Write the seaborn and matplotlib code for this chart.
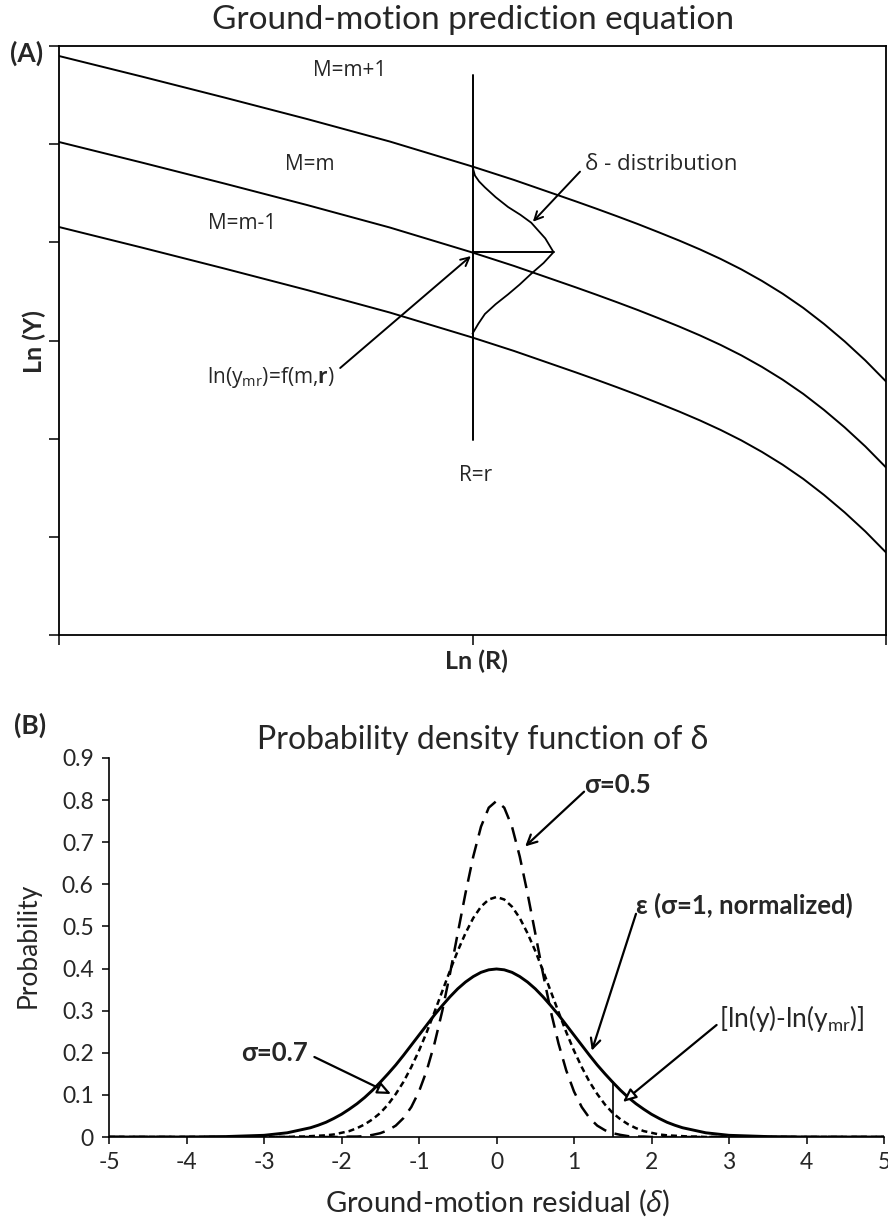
import numpy as np
import pandas as pd
import matplotlib
matplotlib.use("Agg")
import matplotlib.pyplot as plt
import seaborn as sns

# ---------------- Panel A data (schematic, arbitrary units) ----------------
gm_x = [0.0, 0.1, 0.2, 0.3, 0.4, 0.5, 0.55, 0.6, 0.625, 0.65, 0.675, 0.7,
        0.725, 0.75, 0.775, 0.8, 0.825, 0.85, 0.875, 0.9, 0.925, 0.95, 0.975, 1.0]
gm_m_plus = [5.898, 5.689, 5.475, 5.256, 5.027, 4.772, 4.636, 4.490, 4.417, 4.342,
             4.265, 4.186, 4.103, 4.018, 3.928, 3.831, 3.725, 3.607, 3.477, 3.332,
             3.169, 2.991, 2.797, 2.583]
gm_m = [5.022, 4.813, 4.599, 4.380, 4.151, 3.896, 3.760, 3.614, 3.541, 3.466,
        3.389, 3.310, 3.227, 3.142, 3.052, 2.955, 2.849, 2.731, 2.601, 2.456,
        2.293, 2.115, 1.921, 1.707]
gm_m_minus = [4.156, 3.947, 3.733, 3.514, 3.285, 3.030, 2.894, 2.748, 2.675, 2.600,
              2.523, 2.444, 2.361, 2.276, 2.186, 2.089, 1.983, 1.865, 1.735, 1.590,
              1.427, 1.249, 1.055, 0.841]
curve_labels = ["M=m+1", "M=m", "M=m-1"]
r_value = 0.5
r_line_y = [1.99, 5.70]
bell_x = [0.500, 0.503, 0.508, 0.515, 0.528, 0.543, 0.558, 0.571, 0.588, 0.598,
          0.586, 0.571, 0.557, 0.543, 0.528, 0.515, 0.507, 0.500]
bell_y = [4.77, 4.68, 4.62, 4.56, 4.46, 4.36, 4.28, 4.20, 4.04, 3.90,
          3.79, 3.68, 3.57, 3.47, 3.37, 3.27, 3.17, 3.07]
bell_peak = 3.90

# ---------------- Panel B data ----------------
delta = [-5, -4, -3.5,
         -3.0, -2.9, -2.8, -2.7, -2.6, -2.5, -2.4, -2.3, -2.2, -2.1,
         -2.0, -1.9, -1.8, -1.7, -1.6, -1.5, -1.4, -1.3, -1.2, -1.1,
         -1.0, -0.9, -0.8, -0.7, -0.6, -0.5, -0.4, -0.3, -0.2, -0.1,
         0.0,
         0.1, 0.2, 0.3, 0.4, 0.5, 0.6, 0.7, 0.8, 0.9, 1.0,
         1.1, 1.2, 1.3, 1.4, 1.5, 1.6, 1.7, 1.8, 1.9, 2.0,
         2.1, 2.2, 2.3, 2.4, 2.5, 2.6, 2.7, 2.8, 2.9, 3.0,
         3.5, 4, 5]
pdf_sigma10 = [0.000, 0.000, 0.001,
               0.004, 0.006, 0.008, 0.010, 0.014, 0.018, 0.022, 0.028, 0.035, 0.044,
               0.054, 0.066, 0.079, 0.094, 0.111, 0.130, 0.150, 0.171, 0.194, 0.218,
               0.242, 0.266, 0.290, 0.312, 0.333, 0.352, 0.368, 0.381, 0.391, 0.397,
               0.399,
               0.397, 0.391, 0.381, 0.368, 0.352, 0.333, 0.312, 0.290, 0.266, 0.242,
               0.218, 0.194, 0.171, 0.150, 0.130, 0.111, 0.094, 0.079, 0.066, 0.054,
               0.044, 0.035, 0.028, 0.022, 0.018, 0.014, 0.010, 0.008, 0.006, 0.004,
               0.001, 0.000, 0.000]
pdf_sigma07 = [0.000, 0.000, 0.000,
               0.000, 0.000, 0.000, 0.000, 0.001, 0.001, 0.002, 0.003, 0.004, 0.006,
               0.010, 0.014, 0.021, 0.030, 0.042, 0.057, 0.077, 0.102, 0.131, 0.166,
               0.205, 0.249, 0.297, 0.346, 0.395, 0.442, 0.484, 0.520, 0.547, 0.564,
               0.570,
               0.564, 0.547, 0.520, 0.484, 0.442, 0.395, 0.346, 0.297, 0.249, 0.205,
               0.166, 0.131, 0.102, 0.077, 0.057, 0.042, 0.030, 0.021, 0.014, 0.010,
               0.006, 0.004, 0.003, 0.002, 0.001, 0.001, 0.000, 0.000, 0.000, 0.000,
               0.000, 0.000, 0.000]
pdf_sigma05 = [0.000, 0.000, 0.000,
               0.000, 0.000, 0.000, 0.000, 0.000, 0.000, 0.000, 0.000, 0.000, 0.000,
               0.000, 0.001, 0.001, 0.002, 0.005, 0.009, 0.016, 0.027, 0.045, 0.071,
               0.108, 0.158, 0.222, 0.299, 0.388, 0.484, 0.579, 0.666, 0.737, 0.782,
               0.798,
               0.782, 0.737, 0.666, 0.579, 0.484, 0.388, 0.299, 0.222, 0.158, 0.108,
               0.071, 0.045, 0.027, 0.016, 0.009, 0.005, 0.002, 0.001, 0.001, 0.000,
               0.000, 0.000, 0.000, 0.000, 0.000, 0.000, 0.000, 0.000, 0.000, 0.000,
               0.000, 0.000, 0.000]
residual_mark = 1.5
residual_mark_top = 0.13
x_ticks_b = [-5, -4, -3, -2, -1, 0, 1, 2, 3, 4, 5]
x_tick_labels_b = ["-5", "-4", "-3", "-2", "-1", "0", "1", "2", "3", "4", "5"]
y_ticks_b = [0, 0.1, 0.2, 0.3, 0.4, 0.5, 0.6, 0.7, 0.8, 0.9]
y_tick_labels_b = ["0", "0.1", "0.2", "0.3", "0.4", "0.5", "0.6", "0.7", "0.8", "0.9"]

# ---------------- style ----------------
sns.set_style("ticks")
plt.rcParams["font.family"] = ["Lato", "Noto Sans", "DejaVu Sans"]
plt.rcParams["axes.unicode_minus"] = False
plt.rcParams["mathtext.fontset"] = "custom"
plt.rcParams["mathtext.rm"] = "Open Sans"
plt.rcParams["mathtext.it"] = "Open Sans:italic"
plt.rcParams["mathtext.bf"] = "Open Sans:bold"

W, H = 888, 1219
fig = plt.figure(figsize=(W / 100, H / 100), dpi=100)
fig.patch.set_facecolor("white")

def fx(px):
    return px / W

def fy(py):
    return 1 - py / H

LATO = ["Lato", "Noto Sans", "DejaVu Sans"]
OPEN = ["Open Sans", "DejaVu Sans"]

# ================= Panel A =================
axA = fig.add_axes([fx(59), fy(635), fx(886) - fx(59), fy(46) - fy(635)])
for yy in (gm_m_plus, gm_m, gm_m_minus):
    sns.lineplot(x=gm_x, y=yy, ax=axA, color="black", linewidth=1.4)
sns.lineplot(x=[r_value, r_value], y=r_line_y, ax=axA, color="black", linewidth=1.4,
             estimator=None, sort=False)
sns.lineplot(x=bell_x, y=bell_y, ax=axA, color="black", linewidth=1.3,
             estimator=None, sort=False)
sns.lineplot(x=[r_value, max(bell_x)], y=[bell_peak, bell_peak], ax=axA,
             color="black", linewidth=1.4, estimator=None, sort=False)
axA.set_xlim(0, 1)
axA.set_ylim(0, 6)
axA.set_xticks([0, 0.5, 1])
axA.set_yticks([0, 1, 2, 3, 4, 5, 6])
axA.set_xticklabels([])
axA.set_yticklabels([])
axA.tick_params(direction="out", length=7, width=1.1, color="black")
for s in axA.spines.values():
    s.set_visible(True)
    s.set_linewidth(1.3)
    s.set_color("black")
axA.set_xlabel("")
axA.set_ylabel("")

lab_pos = [(0.352, 5.75), (0.303, 4.79), (0.222, 4.19)]
for lab, (xx, yy) in zip(curve_labels, lab_pos):
    axA.text(xx, yy, lab, family=OPEN, fontsize=15, ha="center", va="center")
axA.text(0.728, 4.79, "δ - distribution", family=OPEN, fontsize=16,
         ha="center", va="center")
axA.text(0.256, 2.62, r"ln(y$_\mathregular{mr}$)=f(m,$\mathbf{r}$)", family=OPEN,
         fontsize=15, ha="center", va="center")
axA.text(0.504, 1.62, "R=r", family=OPEN, fontsize=15, ha="center", va="center")
axA.annotate("", xy=(0.498, 3.86), xytext=(0.340, 2.72),
             arrowprops=dict(arrowstyle="->,head_length=0.6,head_width=0.3",
                             lw=1.4, color="black", shrinkA=0, shrinkB=0))
axA.annotate("", xy=(0.573, 4.21), xytext=(0.630, 4.72),
             arrowprops=dict(arrowstyle="->,head_length=0.6,head_width=0.3",
                             lw=1.4, color="black", shrinkA=0, shrinkB=0))

fig.text(fx(473), fy(20), "Ground-motion prediction equation", family=LATO,
         fontsize=24, ha="center", va="center")
fig.text(fx(27), fy(53), "(A)", family=LATO, fontsize=19, fontweight="bold",
         ha="center", va="center")
fig.text(fx(34), fy(342), "Ln (Y)", family=LATO, fontsize=18, fontweight="bold",
         ha="center", va="center", rotation=90)
fig.text(fx(476), fy(661), "Ln (R)", family=LATO, fontsize=18, fontweight="bold",
         ha="center", va="center")

# ================= Panel B =================
axB = fig.add_axes([fx(109), fy(1137), fx(884) - fx(109), fy(758) - fy(1137)])
sns.lineplot(x=delta, y=pdf_sigma05, ax=axB, color="black", linewidth=1.8,
             linestyle=(0, (6, 3.5)))
sns.lineplot(x=delta, y=pdf_sigma07, ax=axB, color="black", linewidth=1.8,
             linestyle=(0, (2.4, 1.6)))
sns.lineplot(x=delta, y=pdf_sigma10, ax=axB, color="black", linewidth=2.1)
sns.lineplot(x=[residual_mark, residual_mark], y=[0, residual_mark_top], ax=axB,
             color="black", linewidth=1.2, estimator=None, sort=False)
axB.set_xlim(-5, 5)
axB.set_ylim(0, 0.9)
axB.set_xticks(x_ticks_b)
axB.set_xticklabels(x_tick_labels_b)
axB.set_yticks(y_ticks_b)
axB.set_yticklabels(y_tick_labels_b)
axB.tick_params(direction="out", length=5, width=1.1, color="black", labelsize=16.5,
                pad=6)
for lbl in axB.get_xticklabels() + axB.get_yticklabels():
    lbl.set_family(LATO)
sns.despine(ax=axB)
for s in ("left", "bottom"):
    axB.spines[s].set_linewidth(1.2)
    axB.spines[s].set_color("black")
axB.set_xlabel("")
axB.set_ylabel("")

axB.text(1.13, 0.836, "σ=0.5", family=LATO, fontsize=18.5, fontweight="bold",
         ha="left", va="center")
axB.text(1.80, 0.551, "ε (σ=1, normalized)", family=LATO, fontsize=18.5,
         fontweight="bold", ha="left", va="center")
axB.text(2.87, 0.282, r"[ln(y)-ln(y$_\mathregular{mr}$)]", family=LATO,
         fontsize=19, ha="left", va="center")
axB.text(-3.30, 0.200, "σ=0.7", family=LATO, fontsize=18.5, fontweight="bold",
         ha="left", va="center")
axB.annotate("", xy=(0.37, 0.69), xytext=(1.13, 0.82),
             arrowprops=dict(arrowstyle="->,head_length=0.7,head_width=0.35",
                             lw=1.6, color="black", shrinkA=0, shrinkB=0))
axB.annotate("", xy=(1.23, 0.205), xytext=(1.80, 0.53),
             arrowprops=dict(arrowstyle="->,head_length=0.7,head_width=0.35",
                             lw=1.6, color="black", shrinkA=0, shrinkB=0))
axB.annotate("", xy=(1.63, 0.083), xytext=(2.84, 0.266),
             arrowprops=dict(arrowstyle="-|>,head_length=0.8,head_width=0.35",
                             lw=1.6, ec="black", fc="white", shrinkA=0, shrinkB=0))
axB.annotate("", xy=(-1.36, 0.102), xytext=(-2.35, 0.19),
             arrowprops=dict(arrowstyle="-|>,head_length=0.8,head_width=0.35",
                             lw=1.6, ec="black", fc="white", shrinkA=0, shrinkB=0))

fig.text(fx(30), fy(725), "(B)", family=LATO, fontsize=19, fontweight="bold",
         ha="center", va="center")
fig.text(fx(483), fy(740), "Probability density function of δ", family=LATO,
         fontsize=23, ha="center", va="center")
fig.text(fx(28), fy(945), "Probability", family=LATO, fontsize=19,
         ha="center", va="center", rotation=90)
fig.text(fx(498), fy(1203), r"Ground-motion residual ($\delta$)", family=LATO,
         fontsize=21, ha="center", va="center")

fig.savefig("out.png", dpi=100, facecolor="white")
